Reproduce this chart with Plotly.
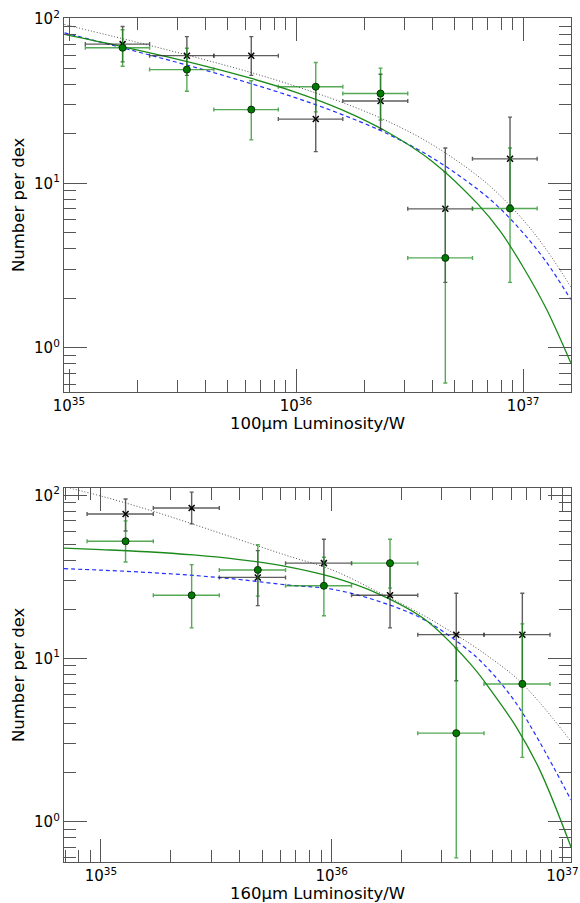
import numpy as np
import plotly.graph_objects as go

# ---------------- data ----------------
# Top panel: 100um luminosity function
top_edges = [35.072, 35.355, 35.638, 35.922, 36.206, 36.492, 36.777, 37.062]   # log10 L bin edges
top_black_y = [70.3, 59.8, 59.8, 24.6, 31.7, 7.0, 14.1]
top_black_hi = [89.9, 78.1, 78.1, 37.9, 46.1, 16.4, 25.3]
top_black_lo = [54.8, 45.4, 45.4, 15.6, 21.3, 2.5, 7.4]
top_green_y = [66.8, 49.2, 28.1, 38.7, 35.2, 3.52, 7.03]
top_green_hi = [86.0, 66.3, 42.1, 54.3, 50.2, 11.7, 16.4]
top_green_lo = [51.6, 36.3, 18.4, 27.2, 24.3, 0.61, 2.5]

top_curve_logx = [34.98, 35.2, 35.4, 35.6, 35.8, 36.0, 36.2, 36.4, 36.6, 36.8, 36.9, 37.0, 37.1, 37.21]
top_dotted = [92.5, 78.0, 66.6, 56.4, 47.3, 38.9, 31.2, 24.0, 17.2, 11.1, 8.4, 6.0, 4.0, 2.35]
top_dashed = [82.3, 68.7, 58.1, 48.8, 40.5, 33.1, 26.3, 20.1, 14.3, 9.2, 7.0, 5.0, 3.36, 1.97]
top_solid = [80.7, 69.6, 60.3, 51.7, 43.6, 35.8, 28.1, 20.6, 13.6, 7.5, 5.1, 3.1, 1.75, 0.81]

# Bottom panel: 160um luminosity function
bot_edges = [34.94, 35.227, 35.513, 35.80, 36.086, 36.373, 36.66, 36.946]
bot_black_y = [76.8, 83.7, 31.4, 38.4, 24.4, 14.0, 14.0]
bot_black_hi = [95.0, 104.6, 45.8, 53.8, 37.6, 25.1, 25.1]
bot_black_lo = [60.5, 66.8, 21.1, 27.0, 15.4, 7.3, 7.3]
bot_green_y = [52.3, 24.4, 34.9, 27.9, 38.4, 3.49, 6.98]
bot_green_hi = [69.7, 37.6, 49.8, 41.7, 53.8, 11.6, 16.3]
bot_green_lo = [39.0, 15.4, 24.1, 18.3, 27.0, 0.60, 2.48]

bot_curve_logx = [34.84, 35.0, 35.2, 35.4, 35.6, 35.8, 36.0, 36.2, 36.4, 36.6, 36.7, 36.8, 36.9, 37.037]
bot_dotted = [113, 99, 82, 66.5, 53.5, 43.0, 35.0, 25.6, 18.3, 12.3, 9.8, 7.6, 5.4, 3.1]
bot_dashed = [35.5, 34.8, 33.7, 32.3, 30.5, 28.3, 26.6, 22.5, 17.3, 11.0, 8.0, 5.3, 3.1, 1.36]
bot_solid = [47.5, 46.5, 45.1, 43.1, 40.4, 36.7, 31.6, 25.0, 17.5, 9.3, 6.1, 3.8, 2.1, 0.70]

y_tickvals = [1, 10, 100]
y_ticktext = ["10<sup>0</sup>", "10<sup>1</sup>", "10<sup>2</sup>"]
top_x_tickvals = [1e35, 1e36, 1e37]
top_x_ticktext = ["10<sup>35</sup>", "10<sup>36</sup>", "10<sup>37</sup>"]
bot_x_tickvals = [1e35, 1e36, 1e37]
bot_x_ticktext = ["10<sup>35</sup>", "10<sup>36</sup>", "10<sup>37</sup>"]
top_xtitle = "100μm Luminosity/W"
bot_xtitle = "160μm Luminosity/W"
ytitle = "Number per dex"

# ---------------- figure ----------------
W, H = 580, 903
FONT = "DejaVu Sans"
FRAME = "#555555"


def bins(edges):
    e = np.array(edges, dtype=float)
    lo = 10 ** e[:-1]
    hi = 10 ** e[1:]
    c = (lo + hi) / 2.0
    return c, c - lo, hi - c


def minor_vals(d0, d1):
    vals = []
    for d in range(d0, d1):
        for m in range(2, 10):
            vals.append(m * 10.0 ** d)
    return vals


fig = go.Figure()


def add_panel(xa, ya, edges, by, bhi, blo, gy, ghi, glo, cx, dotted, dashed, solid):
    c, xm, xp = bins(edges)
    by, bhi, blo = map(np.array, (by, bhi, blo))
    gy, ghi, glo = map(np.array, (gy, ghi, glo))
    cxv = 10 ** np.array(cx)
    # model curves
    fig.add_trace(go.Scatter(x=cxv, y=dotted, mode="lines", xaxis=xa, yaxis=ya,
                             line=dict(color="rgba(60,60,60,0.9)", width=1, dash="1px,2px", shape="spline"),
                             showlegend=False, hoverinfo="skip"))
    fig.add_trace(go.Scatter(x=cxv, y=dashed, mode="lines", xaxis=xa, yaxis=ya,
                             line=dict(color="#2030ff", width=1.2, dash="4px,3px", shape="spline"),
                             showlegend=False, hoverinfo="skip"))
    fig.add_trace(go.Scatter(x=cxv, y=solid, mode="lines", xaxis=xa, yaxis=ya,
                             line=dict(color="#1a8a1a", width=1.3, shape="spline"),
                             showlegend=False, hoverinfo="skip"))
    # black data
    ecol_b = "rgba(40,40,40,0.75)"
    fig.add_trace(go.Scatter(
        x=c, y=by, mode="markers", xaxis=xa, yaxis=ya, showlegend=False,
        marker=dict(symbol="x-thin", size=6, color="black", line=dict(width=1.5, color="black")),
        error_y=dict(type="data", symmetric=False, array=bhi - by, arrayminus=by - blo,
                     color=ecol_b, thickness=1.4, width=2),
        error_x=dict(type="data", symmetric=False, array=xp, arrayminus=xm,
                     color=ecol_b, thickness=1.4, width=2)))
    ecol_g = "rgba(30,140,30,0.75)"
    fig.add_trace(go.Scatter(
        x=c, y=gy, mode="markers", xaxis=xa, yaxis=ya, showlegend=False,
        marker=dict(symbol="circle", size=7, color="#007a00", line=dict(width=1, color="#0a300a")),
        error_y=dict(type="data", symmetric=False, array=ghi - gy, arrayminus=gy - glo,
                     color=ecol_g, thickness=1.4, width=2),
        error_x=dict(type="data", symmetric=False, array=xp, arrayminus=xm,
                     color=ecol_g, thickness=1.4, width=2)))


add_panel("x", "y", top_edges, top_black_y, top_black_hi, top_black_lo,
          top_green_y, top_green_hi, top_green_lo,
          top_curve_logx, top_dotted, top_dashed, top_solid)
add_panel("x2", "y2", bot_edges, bot_black_y, bot_black_hi, bot_black_lo,
          bot_green_y, bot_green_hi, bot_green_lo,
          bot_curve_logx, bot_dotted, bot_dashed, bot_solid)


def axis(domain, rng, tickvals, ticktext, minors, anchor):
    return dict(
        type="log", domain=domain, range=rng, anchor=anchor, automargin=False,
        showgrid=False, zeroline=False, showline=True, linecolor=FRAME, linewidth=1.3,
        mirror="allticks", ticks="inside", ticklen=23, tickwidth=1.3, tickcolor=FRAME,
        tickmode="array", tickvals=tickvals, ticktext=ticktext,
        tickfont=dict(family=FONT, size=15, color="black"),
        minor=dict(ticks="inside", ticklen=12, tickwidth=1.3, tickcolor=FRAME,
                   tickmode="array", tickvals=minors, showgrid=False),
    )


def dx(a, b):
    return [a / W, b / W]


def dy(top, bottom):
    return [1 - bottom / H, 1 - top / H]


fig.update_layout(
    width=W, height=H, margin=dict(l=0, r=0, t=0, b=0, pad=0, autoexpand=False),
    paper_bgcolor="white", plot_bgcolor="white", showlegend=False,
    font=dict(family=FONT, color="black"),
    xaxis=axis(dx(64, 571), [34.978, 37.211], top_x_tickvals, top_x_ticktext, minor_vals(34, 38), "y"),
    yaxis=axis(dy(18.3, 392), [-0.269, 2.004], y_tickvals, y_ticktext, minor_vals(-1, 3), "x"),
    xaxis2=axis(dx(64, 571), [34.84, 37.037], bot_x_tickvals, bot_x_ticktext, minor_vals(34, 38), "y2"),
    yaxis2=axis(dy(488.3, 861.7), [-0.245, 2.043], y_tickvals, y_ticktext, minor_vals(-1, 3), "x2"),
)

ann = [
    dict(text=top_xtitle, x=317.5 / W, y=1 - 423 / H),
    dict(text=bot_xtitle, x=317.5 / W, y=1 - 893 / H),
    dict(text=ytitle, x=18 / W, y=1 - 205 / H, textangle=-90),
    dict(text=ytitle, x=18 / W, y=1 - 675 / H, textangle=-90),
]
for a in ann:
    a.update(xref="paper", yref="paper", showarrow=False, xanchor="center", yanchor="middle",
             font=dict(family=FONT, size=16.5, color="black"))
fig.update_layout(annotations=ann)

fig.write_html("out.html", config={"displayModeBar": False},
               post_script="document.body.style.margin='0';document.body.style.overflow='hidden';")
